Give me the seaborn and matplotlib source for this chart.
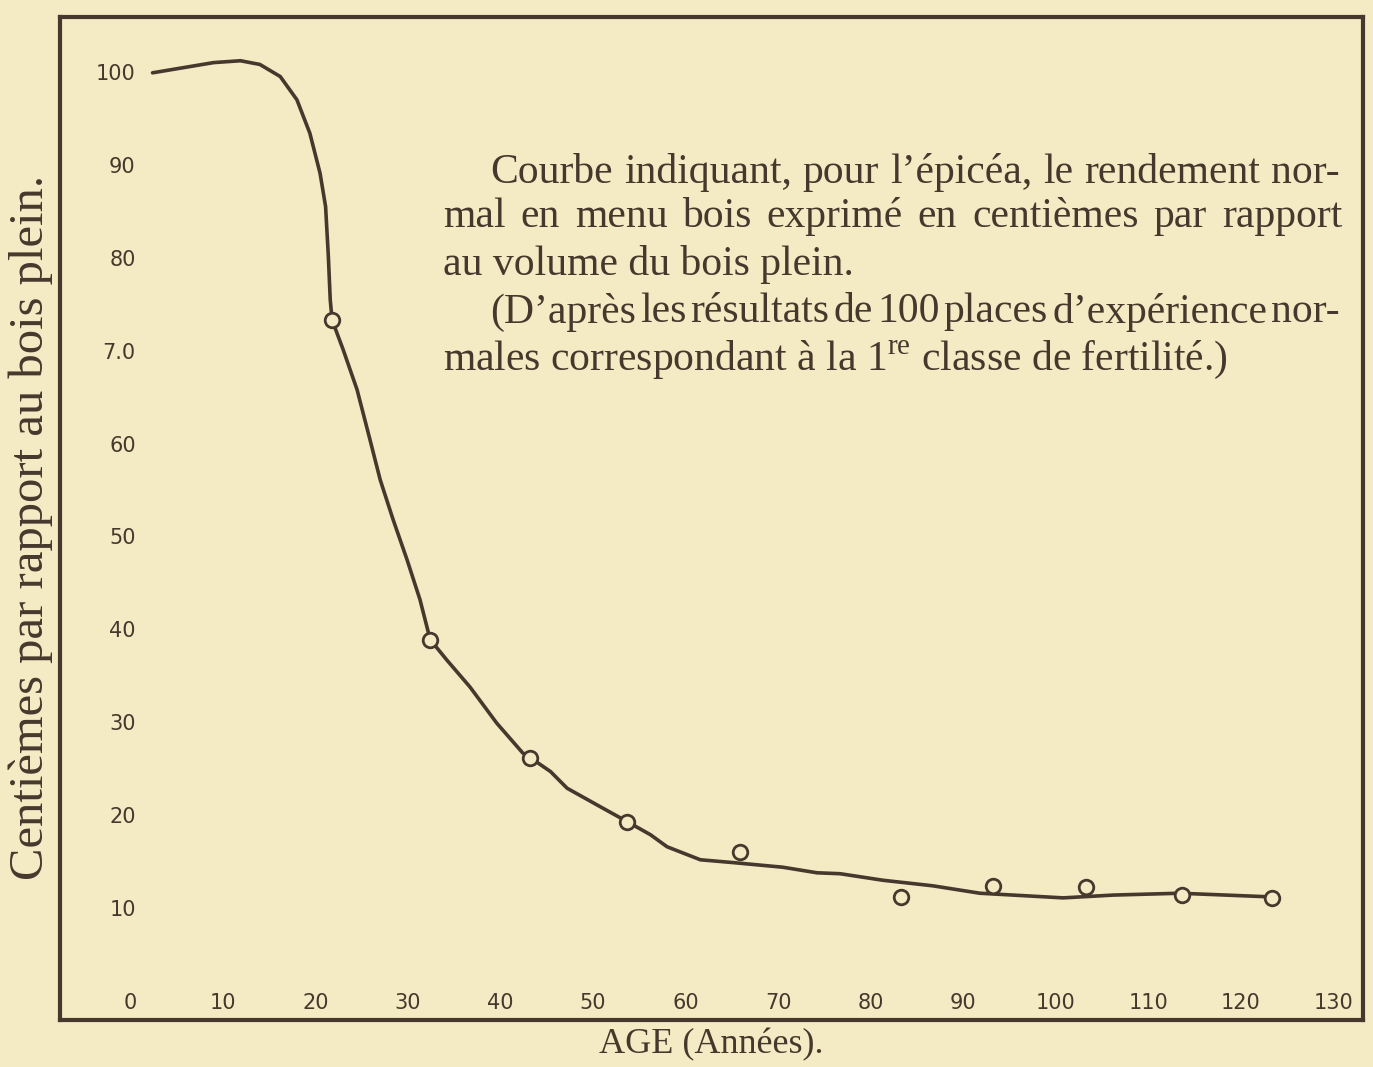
import pandas as pd
import matplotlib
matplotlib.use("Agg")
import matplotlib.pyplot as plt
import seaborn as sns

# Values
curve_age = [2.4, 5.4, 9.0, 11.9, 14.0, 16.2, 18.0, 19.4, 20.5, 21.1, 21.4, 21.6,
             21.8, 23.0, 24.5, 25.9, 27.0, 28.4, 29.9, 31.3, 32.4, 34.2, 36.7,
             39.6, 42.4, 43.2, 45.4, 47.2, 50.8, 53.7, 56.2, 58.0, 61.6, 65.1,
             70.5, 74.2, 76.7, 81.3, 86.7, 91.8, 95.4, 100.8, 106.2, 113.4, 123.4]
curve_val = [99.9, 100.4, 101.0, 101.2, 100.8, 99.5, 97.0, 93.4, 89.1, 85.5, 80.1, 75.5,
             73.3, 70.1, 65.8, 60.4, 56.1, 51.8, 47.5, 43.2, 38.9, 36.7, 33.8,
             29.9, 26.7, 26.2, 24.7, 22.9, 20.9, 19.3, 17.9, 16.6, 15.2, 14.9,
             14.4, 13.8, 13.7, 13.0, 12.4, 11.6, 11.4, 11.1, 11.4, 11.6, 11.2]

obs_age = [21.8, 32.4, 43.2, 53.7, 65.9, 83.3, 93.2, 103.3, 113.6, 123.4]
obs_val = [73.3, 38.9, 26.2, 19.3, 16.0, 11.2, 12.4, 12.3, 11.4, 11.1]

x_ticks = [0, 10, 20, 30, 40, 50, 60, 70, 80, 90, 100, 110, 120, 130]
y_ticks = [10, 20, 30, 40, 50, 60, 70, 80, 90, 100]
y_tick_labels = ["10", "20", "30", "40", "50", "60", "7.0", "80", "90", "100"]

note_lines = [
    "Courbe indiquant, pour l\u2019épicéa, le rendement nor-",
    "mal en menu bois exprimé en centièmes par rapport",
    "au volume du bois plein.",
    "(D\u2019après les résultats de 100 places d\u2019expérience nor-",
    "males correspondant à la 1$^{\\mathrm{re}}$ classe de fertilité.)",
]
# left / right ends (pixels) and vertical centres of the note lines
note_left = [490, 443, 443, 490, 443]
note_right = [1340, 1342, None, 1340, None]
note_ypx = [173, 217, 265, 312, 360]

paper = "#F4EAC4"
ink = "#46382C"

sns.set_theme(style="white")
plt.rcParams["font.family"] = ["Liberation Serif", "DejaVu Serif"]
plt.rcParams["mathtext.fontset"] = "custom"
plt.rcParams["mathtext.rm"] = "Liberation Serif"

curve = pd.DataFrame({"age": curve_age, "val": curve_val})
obs = pd.DataFrame({"age": obs_age, "val": obs_val})

W, H = 1373, 1067
fig = plt.figure(figsize=(W / 100, H / 100), dpi=100, facecolor=paper)
ax = fig.add_axes([0.0437, 0.044, 0.949, 0.940], facecolor=paper)

sns.lineplot(data=curve, x="age", y="val", sort=False, color=ink, linewidth=2.6, ax=ax)
sns.scatterplot(data=obs, x="age", y="val", s=110, marker="o", facecolor=paper,
                edgecolor=ink, linewidth=2.0, zorder=5, ax=ax)

ax.set_xlim(-7.6, 133.2)
ax.set_ylim(-2.05, 105.9)

ax.set_xticks(x_ticks)
ax.set_xticklabels([str(t) for t in x_ticks], family="DejaVu Sans", fontsize=15, color=ink)
ax.set_yticks(y_ticks)
ax.set_yticklabels(y_tick_labels, family="DejaVu Sans", fontsize=15, color=ink)
ax.tick_params(axis="x", length=0, pad=-19.5)
ax.tick_params(axis="y", length=0, pad=-54.5)

for s in ax.spines.values():
    s.set_color(ink)
    s.set_linewidth(3)

ax.set_xlabel("AGE (Années).", fontsize=26, color=ink)
ax.set_ylabel("Centièmes par rapport au bois plein.", fontsize=35, color=ink)
ax.xaxis.set_label_coords(0.5, -0.008)
ax.yaxis.set_label_coords(-0.005, 0.491)

# note block: justified lines are laid out word by word
renderer = fig.canvas.get_renderer()
note_size = 30
for txt, lx, rx, ypx in zip(note_lines, note_left, note_right, note_ypx):
    yf = 1 - ypx / H
    if rx is None:
        fig.text(lx / W, yf, txt, fontsize=note_size, color=ink, va="center", ha="left")
        continue
    words = txt.split(" ")
    items = [fig.text(0, yf, w, fontsize=note_size, color=ink, va="center", ha="left")
             for w in words]
    widths = [t.get_window_extent(renderer).width for t in items]
    gap = (rx - lx - sum(widths)) / (len(words) - 1)
    x = lx
    for t, w in zip(items, widths):
        t.set_x(x / W)
        x += w + gap

fig.savefig("out.png", dpi=100, facecolor=paper)
